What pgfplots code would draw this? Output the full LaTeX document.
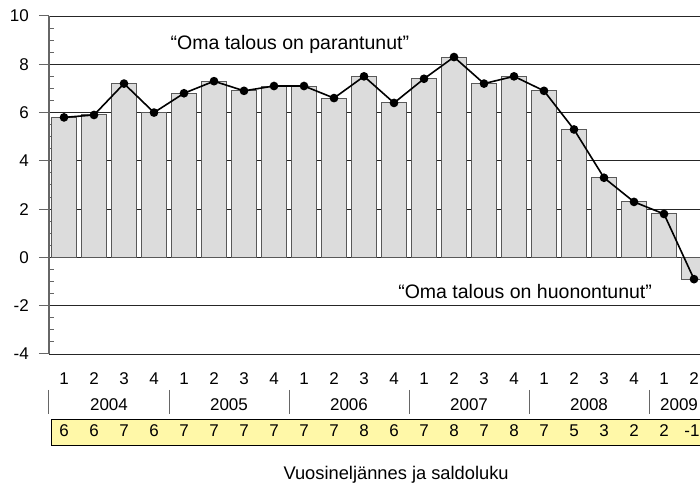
\documentclass[border=0pt]{standalone}
\usepackage{fontspec}
\setmainfont{Liberation Sans}
\usepackage{pgfplots}
\usepackage{pgfplotstable}
\pgfplotsset{compat=1.18}
\definecolor{barfill}{HTML}{DCDCDC}
\definecolor{boxfill}{HTML}{FFF8A8}
\pgfplotstableread{
x y s
1 5.8 6
2 5.9 6
3 7.2 7
4 6.0 6
5 6.8 7
6 7.3 7
7 6.9 7
8 7.1 7
9 7.1 7
10 6.6 7
11 7.5 8
12 6.4 6
13 7.4 7
14 8.3 8
15 7.2 7
16 7.5 8
17 6.9 7
18 5.3 5
19 3.3 3
20 2.3 2
21 1.8 2
22 -0.9 -1
}\data
\newcommand{\tk}[3]{\node[font=\fontsize{17}{17}\selectfont, inner sep=0pt, anchor=base] at (axis cs:#1,#2) {#3};}
\begin{document}
\begin{tikzpicture}
\begin{axis}[
  at={(0,0)}, anchor=south west,
  scale only axis, width=651pt, height=338pt,
  xmin=0.5, xmax=22.2, ymin=-4, ymax=10,
  axis line style={draw=none},
  xtick=\empty,
  ytick={-4,-2,0,2,4,6,8,10},
  yticklabels={-4,-2,0,2,4,6,8,10},
  ytick pos=left,
  minor y tick num=3,
  tick align=inside,
  major tick length=10pt, minor tick length=5pt,
  major tick style={xshift=-10pt, draw=black!60, line width=1pt},
  minor tick style={draw=black!60, line width=1pt},
  ymajorgrids, grid style={black!85, line width=0.9pt},
  yticklabel style={font=\fontsize{17}{17}\selectfont, anchor=east, inner sep=0pt, xshift=-20pt},
  clip mode=individual,
]
\addplot[ybar, bar width=25.5pt, fill=barfill, draw=black!65, line width=1pt] table[x=x,y=y]{\data};
\addplot[black, line width=1.6pt, mark=*, mark size=3.5pt, mark options={fill=black}] table[x=x,y=y]{\data};
\draw[black!60, line width=1.5pt] (axis cs:0.5,-4) -- (axis cs:0.5,10);
\node[font=\fontsize{19.5}{19.5}\selectfont, anchor=base, inner sep=0pt] at (axis cs:8.53,8.63) {“Oma talous on parantunut”};
\node[font=\fontsize{19.5}{19.5}\selectfont, anchor=base, inner sep=0pt] at (axis cs:16.37,-1.69) {“Oma talous on huonontunut”};
% quarters
\tk{1}{-5.26}{1}\tk{2}{-5.26}{2}\tk{3}{-5.26}{3}\tk{4}{-5.26}{4}
\tk{5}{-5.26}{1}\tk{6}{-5.26}{2}\tk{7}{-5.26}{3}\tk{8}{-5.26}{4}
\tk{9}{-5.26}{1}\tk{10}{-5.26}{2}\tk{11}{-5.26}{3}\tk{12}{-5.26}{4}
\tk{13}{-5.26}{1}\tk{14}{-5.26}{2}\tk{15}{-5.26}{3}\tk{16}{-5.26}{4}
\tk{17}{-5.26}{1}\tk{18}{-5.26}{2}\tk{19}{-5.26}{3}\tk{20}{-5.26}{4}
\tk{21}{-5.26}{1}\tk{22}{-5.26}{2}
% years
\tk{2.5}{-6.32}{2004}\tk{6.5}{-6.32}{2005}\tk{10.5}{-6.32}{2006}
\tk{14.5}{-6.32}{2007}\tk{18.5}{-6.32}{2008}\tk{21.5}{-6.32}{2009}
\foreach \xs in {0.5,4.5,8.5,12.5,16.5,20.5}{
  \edef\tmp{\noexpand\draw[black!60, line width=1pt] (axis cs:\xs,-5.49) -- (axis cs:\xs,-6.49);}\tmp
}
% box
\fill[boxfill] (axis cs:0.6,-6.73) rectangle (axis cs:22.4,-7.81);
\draw[black, line width=1pt] (axis cs:22.4,-6.73) -- (axis cs:0.6,-6.73) -- (axis cs:0.6,-7.81) -- (axis cs:22.4,-7.81);
\tk{1}{-7.43}{6}\tk{2}{-7.43}{6}\tk{3}{-7.43}{7}\tk{4}{-7.43}{6}
\tk{5}{-7.43}{7}\tk{6}{-7.43}{7}\tk{7}{-7.43}{7}\tk{8}{-7.43}{7}
\tk{9}{-7.43}{7}\tk{10}{-7.43}{7}\tk{11}{-7.43}{8}\tk{12}{-7.43}{6}
\tk{13}{-7.43}{7}\tk{14}{-7.43}{8}\tk{15}{-7.43}{7}\tk{16}{-7.43}{8}
\tk{17}{-7.43}{7}\tk{18}{-7.43}{5}\tk{19}{-7.43}{3}\tk{20}{-7.43}{2}
\tk{21}{-7.43}{2}\tk{21.93}{-7.43}{-1}
\node[font=\fontsize{18.3}{18.3}\selectfont, inner sep=0pt, anchor=base] at (axis cs:12.07,-9.2) {Vuosineljännes ja saldoluku};
\end{axis}
\pgfresetboundingbox
\path[use as bounding box] (-49pt,-132pt) rectangle (651pt,354pt);
\end{tikzpicture}
\end{document}
